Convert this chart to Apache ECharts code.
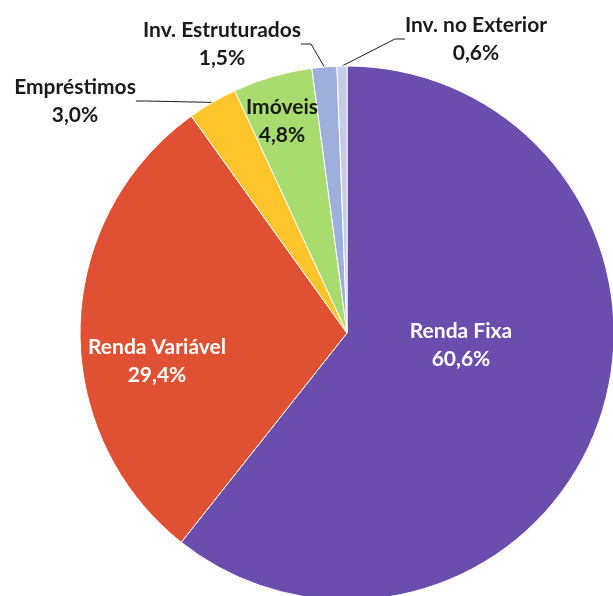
<!DOCTYPE html>
<html>
<head>
<meta charset="utf-8">
<script src="https://cdn.jsdelivr.net/npm/echarts@6/dist/echarts.min.js"></script>
<style>
  html, body { margin: 0; padding: 0; background: #fff; }
  #chart { width: 613px; height: 596px; }
</style>
</head>
<body>
<div id="chart"></div>
<script>
  var categories = ['Renda Fixa', 'Renda Variável', 'Empréstimos', 'Imóveis', 'Inv. Estruturados', 'Inv. no Exterior'];
  var shares = [60.6, 29.4, 3.0, 4.8, 1.5, 0.6];
  var colors = ['#6a4dad', '#e05133', '#ffc52a', '#a8dc6e', '#9fafdb', '#c4cce8'];
  // where each label block sits (centre of text) and its colour
  var labelSpots = [[461, 345], [157, 361], [75, 101], [282, 121], [222, 44], [476, 39]];
  var labelColors = ['#ffffff', '#ffffff', '#1a1a1a', '#1a1a1a', '#1a1a1a', '#1a1a1a'];
  var outside = [false, false, true, false, true, true];

  var chart = echarts.init(document.getElementById('chart'));

  var pieData = categories.map(function (name, i) {
    return {
      name: name,
      value: shares[i],
      itemStyle: { color: colors[i] },
      label: { color: labelColors[i], position: outside[i] ? 'outside' : 'inside' },
      labelLine: { show: outside[i] }
    };
  });

  chart.setOption({
    animation: false,
    series: [{
      type: 'pie',
      center: [347, 333],
      radius: 267,
      startAngle: 90,
      clockwise: true,
      data: pieData,
      itemStyle: { borderColor: '#ffffff', borderWidth: 1 },
      label: {
        show: true,
        fontFamily: 'Lato',
        fontWeight: 'bold',
        fontSize: 21,
        lineHeight: 28,
        align: 'center',
        overflow: 'none',
        formatter: function (p) {
          return p.name + '\n' + p.value.toFixed(1).replace('.', ',') + '%';
        }
      },
      labelLine: {
        show: true,
        length: 10,
        length2: 10,
        lineStyle: { color: '#1a1a1a', width: 1 }
      },
      labelLayout: function (params) {
        var s = labelSpots[params.dataIndex];
        return { x: s[0], y: s[1], align: 'center', verticalAlign: 'middle', hideOverlap: false };
      }
    }]
  });
</script>
</body>
</html>
